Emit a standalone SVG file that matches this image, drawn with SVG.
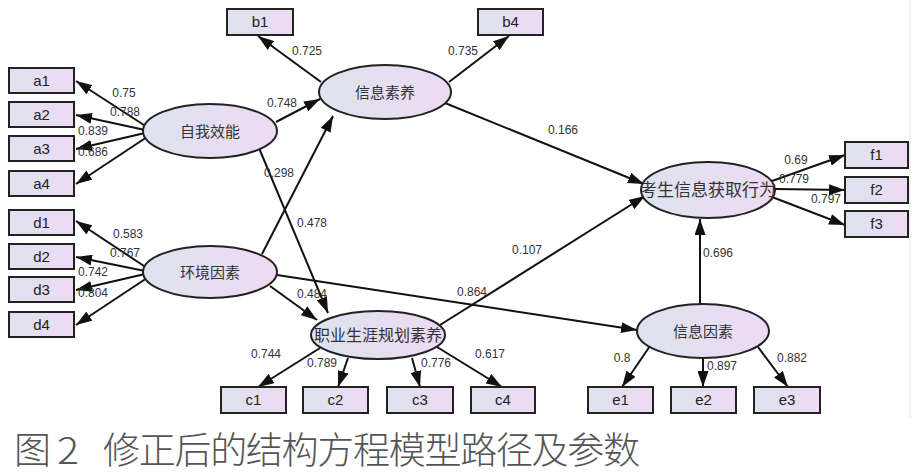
<svg xmlns="http://www.w3.org/2000/svg" width="918" height="474" viewBox="0 0 918 474">
<defs>
<linearGradient id="g" x1="0" y1="0" x2="1" y2="0">
<stop offset="0" stop-color="#dde3ee"/>
<stop offset="1" stop-color="#eedaf3"/>
</linearGradient>
<marker id="ah" markerUnits="userSpaceOnUse" markerWidth="16" markerHeight="11" refX="16" refY="5.5" orient="auto">
<path d="M0,0 L16,5.5 L0,11 z" fill="#111"/>
</marker>
<style>
.box{fill:url(#g);stroke:#222;stroke-width:2}
.ell{fill:url(#g);stroke:#222;stroke-width:2}
.bt{font-family:"Liberation Sans",Arial,sans-serif;font-size:15px;fill:#222;text-anchor:middle}
.et{font-family:"Noto Sans CJK SC","Liberation Sans",sans-serif;font-size:15px;fill:#333;text-anchor:middle}
.lb{font-family:"Liberation Sans",Arial,sans-serif;font-size:12px;fill:#333;text-anchor:middle}
.c line{stroke:#111;stroke-width:2;marker-end:url(#ah)}
</style>
</defs>
<rect width="918" height="474" fill="#fff"/>
<line x1="910" y1="0" x2="910" y2="418" stroke="#e6e6e6" stroke-width="1"/>

<g id="connectors" class="c">
<line x1="147" y1="127" x2="76" y2="81"/>
<line x1="145" y1="130" x2="76" y2="115"/>
<line x1="145" y1="133" x2="76" y2="149"/>
<line x1="147" y1="137" x2="76" y2="184"/>
<line x1="147" y1="268" x2="76" y2="221"/>
<line x1="145" y1="271" x2="76" y2="257"/>
<line x1="145" y1="274" x2="76" y2="290"/>
<line x1="147" y1="278" x2="76" y2="325"/>
<line x1="321" y1="82" x2="258" y2="36"/>
<line x1="449" y1="82" x2="509" y2="36"/>
<line x1="276" y1="122" x2="320" y2="99"/>
<line x1="262" y1="254" x2="333" y2="116"/>
<line x1="259" y1="148" x2="328" y2="313"/>
<line x1="270" y1="286" x2="317" y2="320"/>
<line x1="277" y1="275" x2="637" y2="330"/>
<line x1="445" y1="103" x2="644" y2="184"/>
<line x1="440" y1="325" x2="645" y2="196"/>
<line x1="700" y1="304" x2="700" y2="219"/>
<line x1="772" y1="181" x2="845" y2="155"/>
<line x1="775" y1="189" x2="845" y2="190"/>
<line x1="772" y1="197" x2="845" y2="225"/>
<line x1="320" y1="348" x2="258" y2="387"/>
<line x1="348" y1="358" x2="338" y2="387"/>
<line x1="412" y1="358" x2="420" y2="387"/>
<line x1="437" y1="347" x2="502" y2="387"/>
<line x1="650" y1="346" x2="622" y2="387"/>
<line x1="703" y1="358" x2="703" y2="387"/>
<line x1="758" y1="347" x2="788" y2="387"/>
</g>

<g id="labels">
<text class="lb" x="124" y="97">0.75</text>
<text class="lb" x="125" y="116">0.788</text>
<text class="lb" x="93" y="135">0.839</text>
<text class="lb" x="93" y="156">0.686</text>
<text class="lb" x="128" y="238">0.583</text>
<text class="lb" x="125" y="257">0.767</text>
<text class="lb" x="93" y="276">0.742</text>
<text class="lb" x="93" y="297">0.804</text>
<text class="lb" x="307" y="55">0.725</text>
<text class="lb" x="463" y="55">0.735</text>
<text class="lb" x="282" y="107">0.748</text>
<text class="lb" x="279" y="177">0.298</text>
<text class="lb" x="312" y="227">0.478</text>
<text class="lb" x="312" y="298">0.484</text>
<text class="lb" x="472" y="296">0.864</text>
<text class="lb" x="563" y="134">0.166</text>
<text class="lb" x="527" y="254">0.107</text>
<text class="lb" x="718" y="257">0.696</text>
<text class="lb" x="796" y="164">0.69</text>
<text class="lb" x="794" y="183">0.779</text>
<text class="lb" x="826" y="203">0.797</text>
<text class="lb" x="266" y="358">0.744</text>
<text class="lb" x="322" y="367">0.789</text>
<text class="lb" x="436" y="367">0.776</text>
<text class="lb" x="490" y="358">0.617</text>
<text class="lb" x="622" y="362">0.8</text>
<text class="lb" x="722" y="370">0.897</text>
<text class="lb" x="792" y="362">0.882</text>
</g>

<g id="a1"><rect class="box" x="9" y="68" width="65" height="25"/><text class="bt" x="41.5" y="86">a1</text></g>
<g id="a2"><rect class="box" x="9" y="102" width="65" height="25"/><text class="bt" x="41.5" y="120">a2</text></g>
<g id="a3"><rect class="box" x="9" y="136" width="65" height="25"/><text class="bt" x="41.5" y="154">a3</text></g>
<g id="a4"><rect class="box" x="9" y="171" width="65" height="25"/><text class="bt" x="41.5" y="189">a4</text></g>
<g id="d1"><rect class="box" x="9" y="210" width="65" height="25"/><text class="bt" x="41.5" y="228">d1</text></g>
<g id="d2"><rect class="box" x="9" y="244" width="65" height="25"/><text class="bt" x="41.5" y="262">d2</text></g>
<g id="d3"><rect class="box" x="9" y="277" width="65" height="25"/><text class="bt" x="41.5" y="295">d3</text></g>
<g id="d4"><rect class="box" x="9" y="312" width="65" height="25"/><text class="bt" x="41.5" y="330">d4</text></g>
<g id="b1"><rect class="box" x="227" y="9" width="66" height="26"/><text class="bt" x="260" y="27">b1</text></g>
<g id="b4"><rect class="box" x="478" y="9" width="65" height="26"/><text class="bt" x="510.5" y="27">b4</text></g>
<g id="f1"><rect class="box" x="845" y="142" width="63" height="26"/><text class="bt" x="876.5" y="160">f1</text></g>
<g id="f2"><rect class="box" x="845" y="177" width="63" height="26"/><text class="bt" x="876.5" y="195">f2</text></g>
<g id="f3"><rect class="box" x="845" y="211" width="63" height="26"/><text class="bt" x="876.5" y="229">f3</text></g>
<g id="c1"><rect class="box" x="221" y="387" width="65" height="26"/><text class="bt" x="253.5" y="405">c1</text></g>
<g id="c2"><rect class="box" x="303" y="387" width="65" height="26"/><text class="bt" x="335.5" y="405">c2</text></g>
<g id="c3"><rect class="box" x="387" y="387" width="66" height="26"/><text class="bt" x="420" y="405">c3</text></g>
<g id="c4"><rect class="box" x="471" y="387" width="64" height="26"/><text class="bt" x="503" y="405">c4</text></g>
<g id="e1"><rect class="box" x="588" y="387" width="65" height="26"/><text class="bt" x="620.5" y="405">e1</text></g>
<g id="e2"><rect class="box" x="671" y="387" width="65" height="26"/><text class="bt" x="703.5" y="405">e2</text></g>
<g id="e3"><rect class="box" x="754" y="387" width="66" height="26"/><text class="bt" x="787" y="405">e3</text></g>

<g id="zwxn"><ellipse class="ell" cx="210" cy="131" rx="67" ry="27"/><text class="et" x="210" y="136.5">自我效能</text></g>
<g id="hjys"><ellipse class="ell" cx="210" cy="272" rx="67" ry="26"/><text class="et" x="210" y="277.5">环境因素</text></g>
<g id="xxsy"><ellipse class="ell" cx="385" cy="92" rx="66" ry="27"/><text class="et" x="385" y="97.5">信息素养</text></g>
<g id="ksxx"><ellipse class="ell" cx="708" cy="190" rx="67" ry="28"/><text class="et" x="708" y="196" style="font-size:17px">考生信息获取行为</text></g>
<g id="zysy"><ellipse class="ell" cx="378" cy="335" rx="67" ry="24"/><text class="et" x="378" y="341" style="font-size:16px">职业生涯规划素养</text></g>
<g id="xxys"><ellipse class="ell" cx="703" cy="331" rx="66" ry="27"/><text class="et" x="703" y="336.5">信息因素</text></g>

<text y="464" font-family="'Noto Sans CJK SC',sans-serif" font-weight="200" font-size="37" fill="#555"><tspan x="14">图</tspan><tspan x="57" textLength="22" lengthAdjust="spacingAndGlyphs">2</tspan><tspan x="103" textLength="537" lengthAdjust="spacing">修正后的结构方程模型路径及参数</tspan></text>
</svg>
